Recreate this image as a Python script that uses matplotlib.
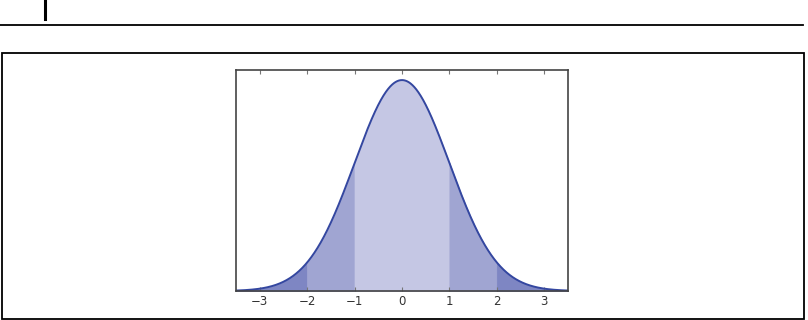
import numpy as np
import matplotlib
matplotlib.use("Agg")
import matplotlib.pyplot as plt
from matplotlib.patches import Rectangle
from matplotlib.lines import Line2D

# x range and shaded bands (in standard deviations)
x_range = [-3.5, 3.5]
y_top = 0.418
tick_values = [-3, -2, -1, 0, 1, 2, 3]
band_edges = [-3.5, -2, -1, 1, 2, 3.5]
band_colors = ["#7e86c3", "#a0a5d2", "#c5c7e4", "#a0a5d2", "#7e86c3"]
curve_color = "#3447a0"

x = np.linspace(x_range[0], x_range[1], 1401)
pdf = np.exp(-x ** 2 / 2) / np.sqrt(2 * np.pi)

fig = plt.figure(figsize=(8.08, 3.2), dpi=100)

# decorations around the chart (page rule, marker and frame)
fig.add_artist(Line2D([0, 803 / 808], [1 - 25 / 320] * 2, color="black", lw=1.3))
fig.add_artist(Line2D([45 / 808] * 2, [1.0, 1 - 19 / 320], color="black", lw=2.2))
fig.add_artist(Rectangle((1.5 / 808, 1.5 / 320), 802 / 808, 266 / 320,
                         fill=False, edgecolor="black", lw=1.3))

ax = fig.add_axes([236 / 808, 1 - 291 / 320, 332 / 808, 221 / 320])

for i in range(len(band_edges) - 1):
    lo, hi = band_edges[i], band_edges[i + 1]
    mask = (x >= lo - 1e-9) & (x <= hi + 1e-9)
    ax.fill_between(x[mask], 0, pdf[mask], facecolor=band_colors[i],
                    edgecolor=band_colors[i], lw=0.6)

ax.plot(x, pdf, color=curve_color, lw=1.4)

ax.set_xlim(x_range)
ax.set_ylim(0, y_top)
ax.set_xticks(tick_values)
ax.set_xticklabels([f"{t}".replace("-", "\u2212") for t in tick_values])
ax.set_yticks([])
ax.tick_params(axis="x", which="both", top=True, direction="in", length=3,
               color="#777777", labelsize=8.5, labelcolor="#333333", pad=3)
for s in ax.spines.values():
    s.set_color("#444444")
    s.set_linewidth(1.2)

fig.savefig("out.png", dpi=100)
